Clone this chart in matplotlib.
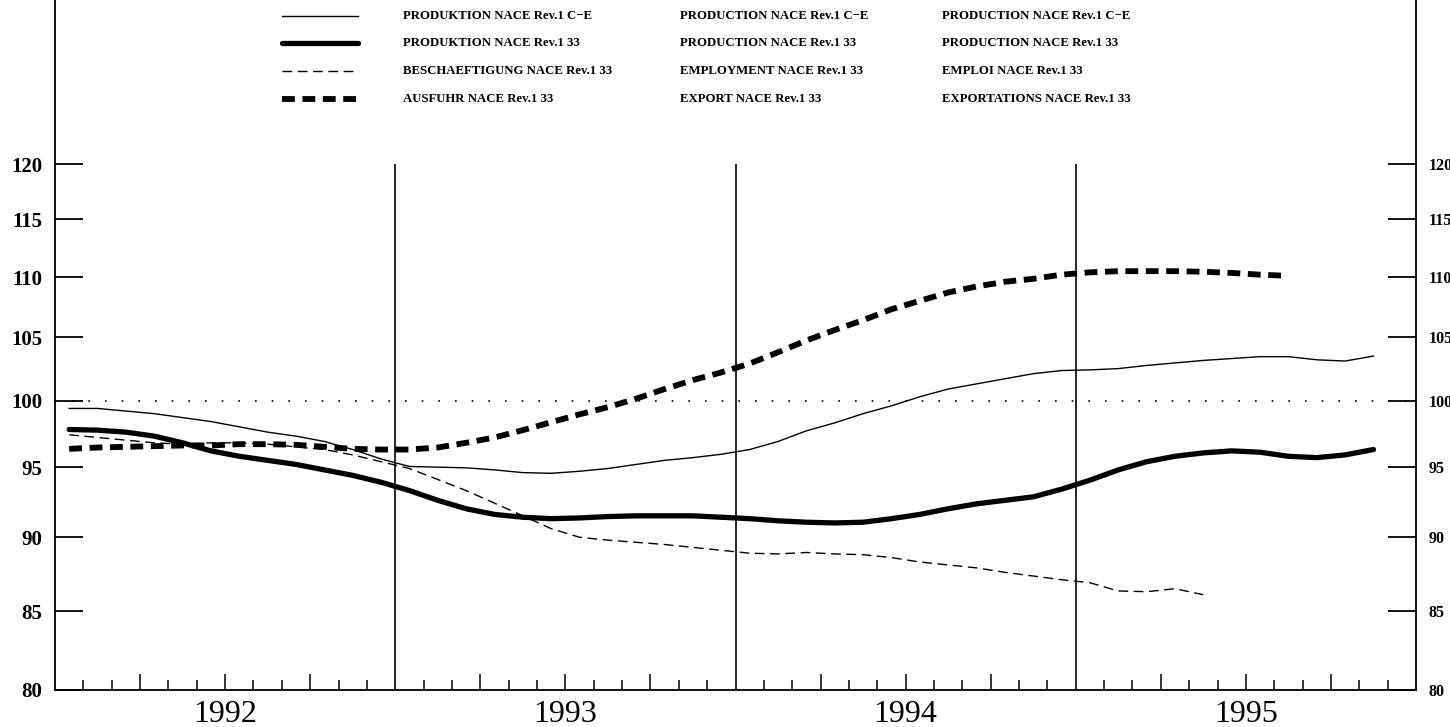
import numpy as np
import matplotlib
matplotlib.use("Agg")
import matplotlib.pyplot as plt
from matplotlib.lines import Line2D
from matplotlib.ticker import FixedLocator, NullLocator, NullFormatter

# monthly indices, starting January 1992
start_year = 1992
years = [1992, 1993, 1994, 1995]

prod_ce = [99.4, 99.4, 99.2, 99.0, 98.7, 98.4, 98.0, 97.6, 97.3, 96.9, 96.3, 95.6,
           95.05, 95.0, 94.95, 94.8, 94.6, 94.55, 94.7, 94.9, 95.2, 95.5, 95.7, 95.95,
           96.3, 96.9, 97.7, 98.3, 99.0, 99.6, 100.3, 100.9, 101.3, 101.7, 102.1, 102.35,
           102.4, 102.5, 102.75, 102.95, 103.15, 103.3, 103.45, 103.45, 103.2, 103.1, 103.5]

prod_33 = [97.8, 97.75, 97.6, 97.3, 96.8, 96.2, 95.8, 95.5, 95.2, 94.8, 94.4, 93.9,
           93.3, 92.6, 92.0, 91.6, 91.4, 91.3, 91.35, 91.45, 91.5, 91.5, 91.5, 91.4,
           91.3, 91.15, 91.05, 91.0, 91.05, 91.3, 91.6, 92.0, 92.35, 92.6, 92.85, 93.4,
           94.05, 94.8, 95.4, 95.8, 96.05, 96.2, 96.1, 95.8, 95.7, 95.9, 96.3]

empl_33 = [97.4, 97.2, 97.0, 96.8, 96.7, 96.8, 96.8, 96.7, 96.5, 96.3, 95.9, 95.4,
           94.9, 94.1, 93.3, 92.4, 91.5, 90.6, 90.0, 89.8, 89.65, 89.5, 89.3, 89.1,
           88.9, 88.85, 88.95, 88.85, 88.8, 88.6, 88.3, 88.1, 87.9, 87.6, 87.35, 87.1,
           86.9, 86.35, 86.3, 86.5, 86.1]

export_33 = [96.35, 96.45, 96.5, 96.55, 96.6, 96.6, 96.7, 96.7, 96.65, 96.5, 96.35, 96.3,
             96.3, 96.45, 96.8, 97.2, 97.75, 98.35, 98.95, 99.5, 100.15, 100.9, 101.6, 102.2,
             102.9, 103.8, 104.75, 105.6, 106.4, 107.3, 108.0, 108.7, 109.2, 109.6, 109.85, 110.2,
             110.4, 110.5, 110.5, 110.5, 110.45, 110.35, 110.2, 110.1]

y_ticks = [80, 85, 90, 95, 100, 105, 110, 115, 120]

labels_de = ["PRODUKTION NACE Rev.1 C\u2212E", "PRODUKTION NACE Rev.1 33",
             "BESCHAEFTIGUNG NACE Rev.1 33", "AUSFUHR NACE Rev.1 33"]
labels_en = ["PRODUCTION NACE Rev.1 C\u2212E", "PRODUCTION NACE Rev.1 33",
             "EMPLOYMENT NACE Rev.1 33", "EXPORT NACE Rev.1 33"]
labels_fr = ["PRODUCTION NACE Rev.1 C\u2212E", "PRODUCTION NACE Rev.1 33",
             "EMPLOI NACE Rev.1 33", "EXPORTATIONS NACE Rev.1 33"]


def month_x(values):
    i = np.arange(len(values))
    return start_year + (i + 0.5) / 12.0  # mid-month positions


plt.rcParams["font.family"] = ["Liberation Serif", "DejaVu Serif"]

W, H = 1450, 727
fig = plt.figure(figsize=(W / 100, H / 100), dpi=100)
ax = fig.add_axes([55 / W, 37 / H, 1361 / W, 690 / H])

styles = [
    dict(color="black", lw=1.0, ls="-"),
    dict(color="black", lw=3.8, ls="-", solid_capstyle="round"),
    dict(color="black", lw=1.0, ls=(0, (7, 4))),
    dict(color="black", lw=4.2, ls=(0, (2.2, 1.3))),
]
series = [prod_ce, prod_33, empl_33, export_33]

ax.axhline(100, color="black", lw=1.2, ls=(0, (1, 9)), zorder=1)
ax.vlines([1993, 1994, 1995], 80, 120, color="black", lw=1.2, zorder=1)

for vals, st in zip(series[::-1], styles[::-1]):
    ax.plot(month_x(vals), vals, zorder=3, **st)

ax.set_yscale("log")
ax.set_ylim(80, 136.2)
ax.set_xlim(1992, 1996)
ax.yaxis.set_major_locator(FixedLocator(y_ticks))
ax.set_yticklabels([str(t) for t in y_ticks])
ax.yaxis.set_minor_locator(NullLocator())
ax.yaxis.set_minor_formatter(NullFormatter())

# quarters long, months short
quarters = [1992 + q / 4 for q in range(1, 16) if q % 4 != 0]
months = [1992 + m / 12 for m in range(1, 48) if m % 3 != 0]
ax.xaxis.set_major_locator(FixedLocator(quarters))
ax.xaxis.set_minor_locator(FixedLocator(months))
ax.set_xticklabels([])
ax.tick_params(axis="x", which="major", direction="in", length=11.5, width=1.1)
ax.tick_params(axis="x", which="minor", direction="in", length=7, width=1.1)
ax.tick_params(axis="y", which="major", direction="in", length=20, width=1.3,
               left=True, right=True, labelleft=True, labelright=True,
               labelsize=15, pad=9)
# right side labels smaller so they stay inside the page
for t in ax.yaxis.get_major_ticks():
    t.label1.set_fontweight("bold")
    t.label2.set_fontweight("bold")
    t.label2.set_fontsize(11.5)

for yr in years:
    ax.text(yr + 0.5, -0.035, str(yr), transform=ax.get_xaxis_transform(),
            ha="center", va="center", fontsize=23)

ax.spines["top"].set_visible(False)
for s in ("left", "right", "bottom"):
    ax.spines[s].set_linewidth(1.3)

# legend block
rows_y = [16, 43, 71, 99]
for py, st, de, en, fr in zip(rows_y, styles, labels_de, labels_en, labels_fr):
    yf = 1 - py / H
    fig.add_artist(Line2D([282 / W, 358 / W], [yf, yf], transform=fig.transFigure, **st))
    for px, txt in ((403, de), (680, en), (942, fr)):
        fig.text(px / W, yf, txt, ha="left", va="center", fontsize=9.2, fontweight="bold")

fig.savefig("out.png", dpi=100)
